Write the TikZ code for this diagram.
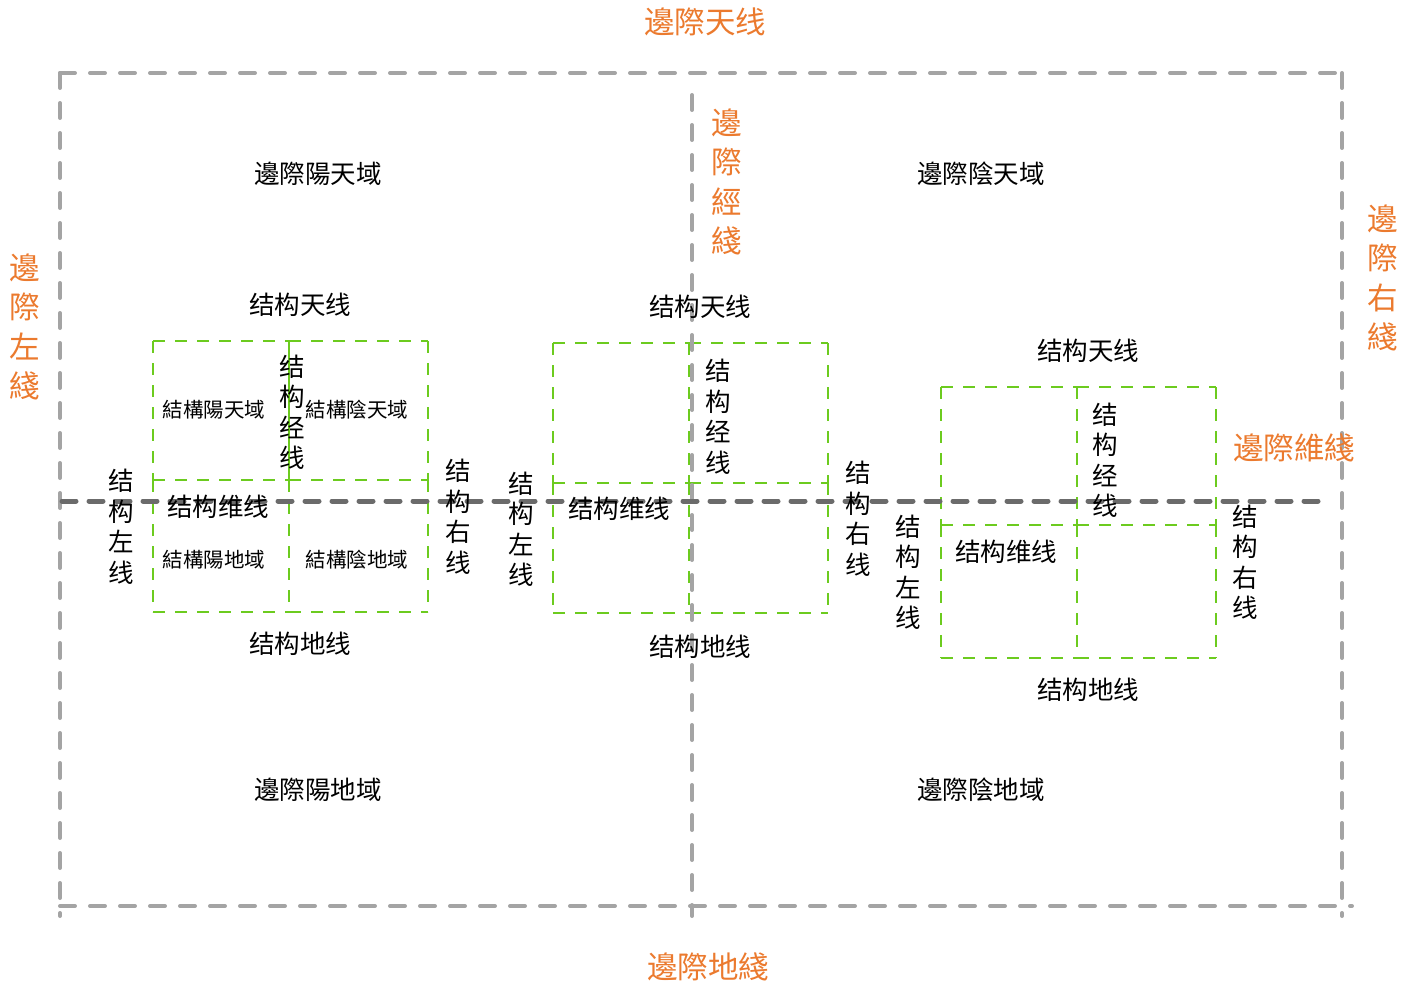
\documentclass[tikz,border=0pt]{standalone}
\usepackage{fontspec}
\setmainfont{Noto Sans CJK SC}
\definecolor{edgeorange}{HTML}{EB7A2E}
\definecolor{structgreen}{HTML}{6CCB1F}
\definecolor{outergray}{HTML}{A4A4A4}
\definecolor{midgray}{HTML}{6B6B6B}
\tikzset{
 outerline/.style={draw=outergray, line width=4pt, line cap=round, dash pattern=on 15pt off 15pt},
 midline/.style={draw=midgray, line width=5pt, line cap=round, dash pattern=on 14pt off 13pt},
 greenline/.style={draw=structgreen, line width=2.5pt, dash pattern=on 12pt off 10pt},
 edgelabel/.style={text=edgeorange, font=\fontsize{30.5}{39.5}\selectfont, inner sep=0pt, align=center},
 regionlabel/.style={font=\fontsize{25.5}{28}\selectfont, inner sep=0pt},
 structlabel/.style={font=\fontsize{25.5}{30.5}\selectfont, inner sep=0pt, align=center},
 smalllabel/.style={font=\fontsize{20.5}{24}\selectfont, inner sep=0pt},
}
\newcommand\greenbox[7]{%
 % #1 name, #2 x1, #3 xm, #4 x2, #5 y1, #6 ym, #7 y2
 \coordinate (#1-a) at (#2,#5); \coordinate (#1-b) at (#3,#5); \coordinate (#1-c) at (#4,#5);
 \coordinate (#1-d) at (#2,#6); \coordinate (#1-e) at (#3,#6); \coordinate (#1-f) at (#4,#6);
 \coordinate (#1-g) at (#2,#7); \coordinate (#1-h) at (#3,#7); \coordinate (#1-i) at (#4,#7);
 \draw[greenline] (#1-a) -- (#1-b); \draw[greenline] (#1-b) -- (#1-c);
 \draw[greenline] (#1-d) -- (#1-e); \draw[greenline] (#1-e) -- (#1-f);
 \draw[greenline] (#1-g) -- (#1-h); \draw[greenline] (#1-h) -- (#1-i);
 \draw[greenline] (#1-a) -- (#1-d); \draw[greenline] (#1-d) -- (#1-g);
 \draw[greenline] (#1-b) -- (#1-e); \draw[greenline] (#1-e) -- (#1-h);
 \draw[greenline] (#1-c) -- (#1-f); \draw[greenline] (#1-f) -- (#1-i);
}
\begin{document}
\begin{tikzpicture}[x=1pt,y=-1pt]
\useasboundingbox (0,0) rectangle (1414,985);
% green structure boxes
\greenbox{lb}{153}{289}{428}{341}{480}{612}
\draw[greenline, solid] (lb-b) -- (lb-e);
\greenbox{mbx}{553}{689}{828}{343}{483}{613}
\greenbox{rb}{941}{1077}{1216}{387}{525}{658}
% outer gray frame
\coordinate (tl) at (60,73); \coordinate (tr) at (1342,73);
\coordinate (bl) at (60,916); \coordinate (br) at (1342,916);
\coordinate (bl2) at (60,906); \coordinate (br2) at (1352,906);
\coordinate (mt) at (692,95); \coordinate (mb) at (692,916);
\coordinate (ml) at (62,501); \coordinate (mr) at (1331,501);
\draw[outerline] (tl) -- (tr);
\draw[outerline] (tl) -- (bl);
\draw[outerline] (tr) -- (br);
\draw[outerline] (bl2) -- (br2);
\draw[outerline] (mt) -- (mb);
\draw[midline] (ml) -- (mr);
% orange edge labels
\node[edgelabel] (topedge) at (705,22) {邊際天线};
\node[edgelabel] (bottomedge) at (708,967) {邊際地綫};
\node[edgelabel] (leftedge) at (25,327) {邊\\際\\左\\綫};
\node[edgelabel] (meridianedge) at (727,182) {邊\\際\\經\\綫};
\node[edgelabel] (rightedge) at (1383,278) {邊\\際\\右\\綫};
\node[edgelabel] (weftedge) at (1294,448) {邊際維綫};
% region labels
\node[regionlabel] (r1) at (318,174) {邊際陽天域};
\node[regionlabel] (r2) at (981,174) {邊際陰天域};
\node[regionlabel] (r3) at (318,790) {邊際陽地域};
\node[regionlabel] (r4) at (981,790) {邊際陰地域};
% left box labels
\node[structlabel] (l-sky) at (300,305) {结构天线};
\node[structlabel] (l-gnd) at (300,644) {结构地线};
\node[structlabel] (l-mer) at (292,412.5) {结\\构\\经\\线};
\node[structlabel] (l-weft) at (218,507) {结构维线};
\node[structlabel] (l-left) at (121,527) {结\\构\\左\\线};
\node[structlabel] (l-right) at (458,517) {结\\构\\右\\线};
\node[smalllabel] (l-q1) at (214,410) {結構陽天域};
\node[smalllabel] (l-q2) at (357,410) {結構陰天域};
\node[smalllabel] (l-q3) at (214,560) {結構陽地域};
\node[smalllabel] (l-q4) at (357,560) {結構陰地域};
% middle box labels
\node[structlabel] (m-sky) at (700,307) {结构天线};
\node[structlabel] (m-gnd) at (700,647) {结构地线};
\node[structlabel] (m-mer) at (718,417) {结\\构\\经\\线};
\node[structlabel] (m-weft) at (619,509) {结构维线};
\node[structlabel] (m-left) at (521,529.5) {结\\构\\左\\线};
\node[structlabel] (m-right) at (858,519) {结\\构\\右\\线};
% right box labels
\node[structlabel] (rr-sky) at (1088,351) {结构天线};
\node[structlabel] (rr-gnd) at (1088,690) {结构地线};
\node[structlabel] (rr-mer) at (1105,460.5) {结\\构\\经\\线};
\node[structlabel] (rr-weft) at (1006,552) {结构维线};
\node[structlabel] (rr-left) at (908,572.5) {结\\构\\左\\线};
\node[structlabel] (rr-right) at (1245,562.5) {结\\构\\右\\线};
\end{tikzpicture}
\end{document}
